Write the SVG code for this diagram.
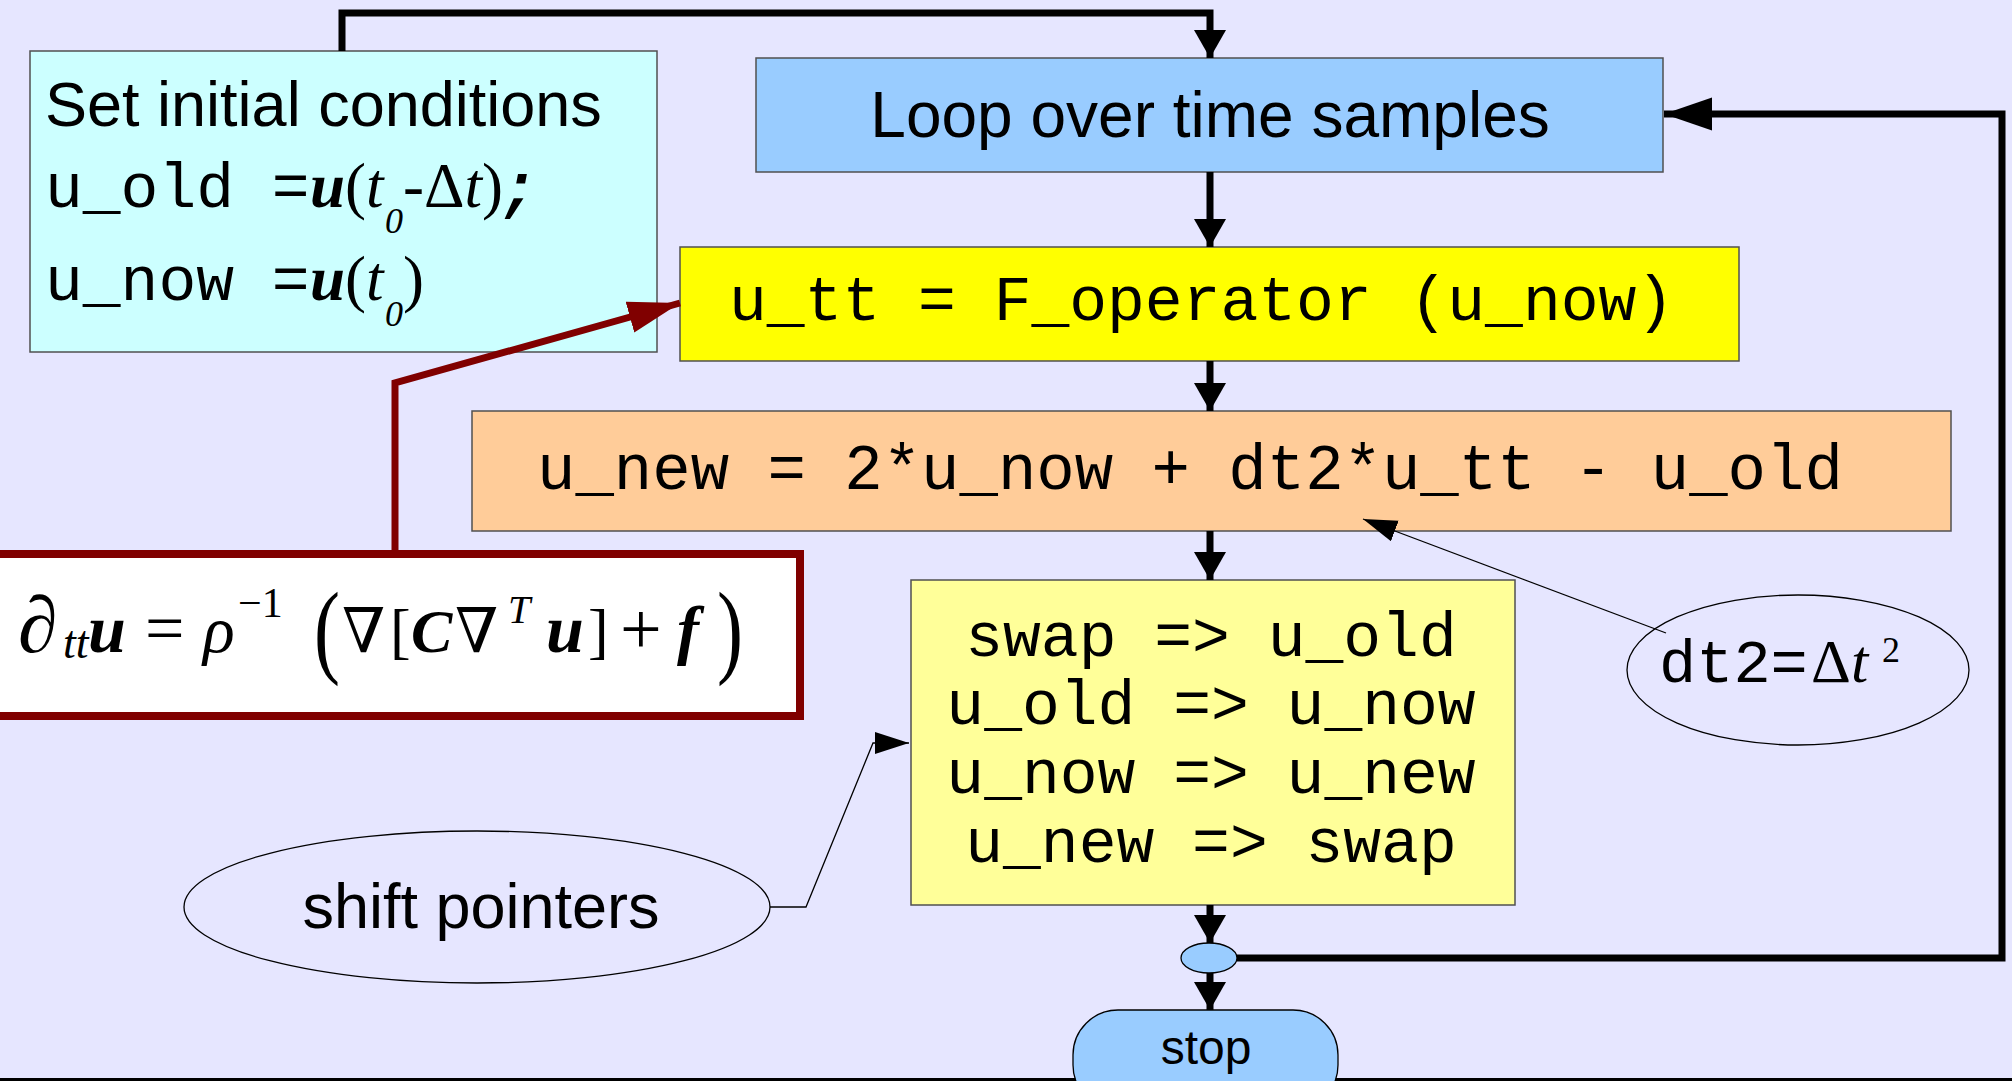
<svg xmlns="http://www.w3.org/2000/svg" width="2012" height="1081" viewBox="0 0 2012 1081">
<style>
.box{stroke:#505050;stroke-width:1.5}
.sans{font-family:"Liberation Sans",Arial,sans-serif;fill:#000}
.mono{font-family:"Liberation Mono","Courier New",monospace;fill:#000}
.serif{font-family:"Liberation Serif","DejaVu Serif",serif;fill:#000}
.bi{font-weight:bold;font-style:italic}
.it{font-style:italic}
.thick{fill:none;stroke:#000;stroke-width:7;stroke-linejoin:miter}
.thin{fill:none;stroke:#000;stroke-width:1.3}
.red{fill:none;stroke:#800000;stroke-width:7;stroke-linejoin:miter}
.oval{fill:none;stroke:#000;stroke-width:1.3}
</style>
<defs>
<marker id="ah" markerUnits="userSpaceOnUse" markerWidth="30" markerHeight="34" refX="28" refY="16" orient="auto"><path d="M0,0 L28,16 L0,32 z" fill="#000"/></marker>
<marker id="ahl" markerUnits="userSpaceOnUse" markerWidth="50" markerHeight="34" refX="48" refY="16.5" orient="auto"><path d="M0,0 L48,16.5 L0,33 z" fill="#000"/></marker>
<marker id="ahr" markerUnits="userSpaceOnUse" markerWidth="54" markerHeight="34" refX="52" refY="16" orient="auto"><path d="M0,0 L52,16 L0,32 z" fill="#800000"/></marker>
<marker id="aht" markerUnits="userSpaceOnUse" markerWidth="36" markerHeight="24" refX="34" refY="11" orient="auto"><path d="M0,0 L34,11 L0,22 z" fill="#000"/></marker>
</defs>
<rect x="0" y="0" width="2012" height="1081" fill="#e6e6ff"/>
<rect x="0" y="1078" width="2012" height="3" fill="#000"/>

<g id="init">
<rect class="box" x="30" y="51" width="627" height="301" fill="#ccffff"/>
<text class="sans" x="45" y="126" font-size="63">Set initial conditions</text>
<text class="mono" x="45" y="207" font-size="63">u_old =</text>
<text class="serif" font-size="63" y="207"><tspan class="bi" x="310">u</tspan><tspan x="345">(</tspan><tspan class="it" x="366">t</tspan><tspan class="it" x="385" y="233" font-size="36">0</tspan><tspan x="403" y="207">-Δ</tspan><tspan class="it">t</tspan><tspan>)</tspan></text>
<text class="mono bi" x="500" y="207" font-size="63">;</text>
<text class="mono" x="45" y="300" font-size="63">u_now =</text>
<text class="serif" font-size="63" y="300"><tspan class="bi" x="310">u</tspan><tspan x="345">(</tspan><tspan class="it" x="366">t</tspan><tspan class="it" x="385" y="326" font-size="36">0</tspan><tspan x="403" y="300">)</tspan></text>
</g>

<g id="loop">
<rect class="box" x="756" y="58" width="907" height="114" fill="#99ccff"/>
<text class="sans" x="1210" y="137" font-size="64" text-anchor="middle">Loop over time samples</text>
</g>

<g id="utt">
<rect class="box" x="680" y="247" width="1059" height="114" fill="#ffff00"/>
<text class="mono" x="729" y="320" font-size="63">u_tt = F_operator (u_now)</text>
</g>

<g id="unew">
<rect class="box" x="472" y="411" width="1479" height="120" fill="#ffcc99"/>
<text class="mono" x="537" y="489" font-size="64">u_new = 2*u_now + dt2*u_tt - u_old</text>
</g>

<g id="swap">
<rect class="box" x="911" y="580" width="604" height="325" fill="#ffff99"/>
<text class="mono" font-size="63" text-anchor="middle" x="1211" y="656">swap =&gt; u_old</text>
<text class="mono" font-size="63" text-anchor="middle" x="1211" y="724">u_old =&gt; u_now</text>
<text class="mono" font-size="63" text-anchor="middle" x="1211" y="793">u_now =&gt; u_new</text>
<text class="mono" font-size="63" text-anchor="middle" x="1211" y="862">u_new =&gt; swap</text>
</g>

<g id="equation">
<rect x="-10" y="554" width="810" height="162" fill="#ffffff" stroke="#800000" stroke-width="8"/>
<text class="serif" font-size="80" x="18" y="652">∂</text>
<text class="serif it" font-size="46" x="63" y="658">tt</text>
<text class="serif bi" font-size="68" x="88" y="652">u</text>
<text class="serif" font-size="70" x="145" y="652">=</text>
<text class="serif it" font-size="66" x="203" y="652">ρ</text>
<text class="serif" font-size="42" x="238" y="617">−1</text>
<text class="serif" font-size="104" transform="translate(314,664) scale(0.75,1)">(</text>
<text class="serif" font-size="62" x="342" y="652">∇</text>
<text class="serif" font-size="62" x="390" y="652">[</text>
<text class="serif bi" font-size="62" x="411" y="652">C</text>
<text class="serif" font-size="62" x="455" y="652">∇</text>
<text class="serif it" font-size="40" x="508" y="623">T</text>
<text class="serif bi" font-size="68" x="546" y="652">u</text>
<text class="serif" font-size="62" x="588" y="652">]</text>
<text class="serif" font-size="74" x="620" y="654">+</text>
<text class="serif bi" font-size="66" x="677" y="652">f</text>
<text class="serif" font-size="104" transform="translate(717,664) scale(0.75,1)">)</text>
</g>

<g id="dt2">
<ellipse class="oval" cx="1798" cy="670" rx="171" ry="75"/>
<text class="mono" x="1659" y="682" font-size="62">dt2=</text>
<text class="serif" x="1811" y="682" font-size="62">Δ<tspan class="it">t</tspan></text>
<text class="serif" x="1882" y="662" font-size="36">2</text>
</g>

<g id="shift">
<ellipse class="oval" cx="477" cy="907" rx="293" ry="76"/>
<text class="sans" x="481" y="928" font-size="63" text-anchor="middle">shift pointers</text>
</g>

<g id="junction">
<ellipse cx="1209" cy="958" rx="28" ry="15" fill="#99ccff" stroke="#000" stroke-width="1.3"/>
</g>

<g id="stop">
<rect x="1073" y="1010" width="265" height="100" rx="45" ry="45" fill="#99ccff" stroke="#000" stroke-width="1.3"/>
<text class="sans" x="1206" y="1064" font-size="48" text-anchor="middle">stop</text>
</g>

<g id="connectors">
<polyline class="thick" points="342,51 342,13 1210,13 1210,58" marker-end="url(#ah)"/>
<line class="thick" x1="1210" y1="172" x2="1210" y2="247" marker-end="url(#ah)"/>
<line class="thick" x1="1210" y1="361" x2="1210" y2="411" marker-end="url(#ah)"/>
<line class="thick" x1="1210" y1="531" x2="1210" y2="580" marker-end="url(#ah)"/>
<line class="thick" x1="1210" y1="905" x2="1210" y2="943" marker-end="url(#ah)"/>
<line class="thick" x1="1210" y1="973" x2="1210" y2="1010" marker-end="url(#ah)"/>
<polyline class="thick" points="1237,958 2002,958 2002,114 1664,114" marker-end="url(#ahl)"/>
<polyline class="red" points="395,556 395,383 680,303" marker-end="url(#ahr)"/>
<line class="thin" x1="1666" y1="633" x2="1363" y2="519" marker-end="url(#aht)"/>
<polyline class="thin" points="770,907 806,907 873,743 909,743" marker-end="url(#aht)"/>
</g>
</svg>
